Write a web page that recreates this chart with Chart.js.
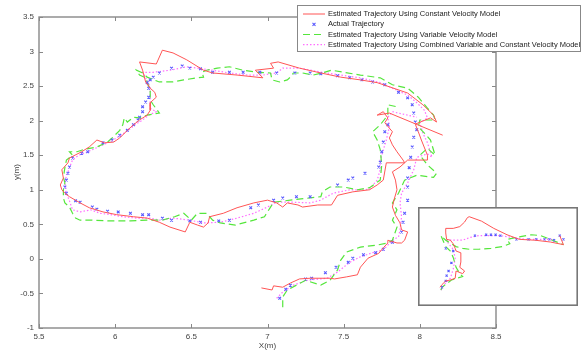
<!DOCTYPE html>
<html><head><meta charset="utf-8">
<script src="https://cdn.jsdelivr.net/npm/chart.js@4.4.0/dist/chart.umd.min.js"></script>
<style>
html,body{margin:0;padding:0;background:#fff;}
#wrap{position:relative;width:583px;height:351px;overflow:hidden;}
#main{position:absolute;left:0;top:0;}
#inset{position:absolute;left:418px;top:207px;}
</style></head><body>
<div id="wrap"><canvas id="main" width="583" height="351"></canvas><canvas id="inset" width="160" height="99"></canvas></div>
<script>
const xTicks = [5.5,6,6.5,7,7.5,8,8.5];
const xTickLabels = ['5.5','6','6.5','7','7.5','8','8.5'];
const yTicks = [-1,-0.5,0,0.5,1,1.5,2,2.5,3,3.5];
const yTickLabels = ['-1','-0.5','0','0.5','1','1.5','2','2.5','3','3.5'];
const seriesNames = ['Estimated Trajectory Using Constant Velocity Model','Actual Trajectory','Estimated Trajectory Using Variable Velocity Model','Estimated Trajectory Using Combined Variable and Constant Velocity Model'];

const estConstVel = [[6.96,-0.42],[7.03,-0.45],[7.04,-0.39],[7.10,-0.41],[7.15,-0.35],[7.21,-0.29],[7.28,-0.28],[7.41,-0.28],[7.44,-0.29],[7.52,-0.26],[7.59,-0.23],[7.61,-0.12],[7.66,0.01],[7.73,0.08],[7.76,0.16],[7.79,0.23],[7.79,0.27],[7.85,0.23],[7.88,0.23],[7.90,0.27],[7.92,0.39],[7.88,0.42],[7.87,0.52],[7.84,0.63],[7.82,0.75],[7.83,0.85],[7.85,1.00],[7.84,1.14],[7.82,1.26],[7.87,1.33],[7.92,1.43],[8.05,1.43],[8.05,1.50],[8.01,1.72],[7.99,1.84],[7.97,1.95],[8.07,2.04],[8.11,1.98],[8.09,2.08],[8.02,2.23],[7.92,2.40],[7.80,2.49],[7.72,2.55],[7.61,2.59],[7.48,2.63],[7.35,2.69],[7.21,2.76],[7.07,2.85],[7.02,2.83],[7.04,2.76],[6.92,2.73],[6.97,2.62],[6.80,2.66],[6.64,2.69],[6.58,2.73],[6.47,2.88],[6.38,2.98],[6.31,3.02],[6.27,2.82],[6.16,2.85],[6.18,2.73],[6.20,2.56],[6.23,2.47],[6.26,2.41],[6.27,2.34],[6.23,2.26],[6.23,2.15],[6.21,2.08],[6.16,2.01],[6.12,1.94],[6.08,1.86],[6.03,1.75],[5.99,1.69],[5.93,1.68],[5.88,1.72],[5.83,1.62],[5.78,1.55],[5.70,1.46],[5.69,1.39],[5.65,1.29],[5.66,1.17],[5.64,1.07],[5.65,1.00],[5.67,0.95],[5.70,0.90],[5.77,0.81],[5.83,0.74],[5.92,0.68],[6.01,0.64],[6.12,0.61],[6.21,0.59],[6.29,0.53],[6.36,0.46],[6.46,0.39],[6.49,0.53],[6.54,0.49],[6.58,0.46],[6.61,0.52],[6.62,0.61],[6.71,0.66],[6.80,0.74],[6.91,0.81],[7.00,0.85],[7.06,0.81],[7.10,0.75],[7.13,0.81],[7.20,0.78],[7.23,0.75],[7.33,0.78],[7.42,0.78],[7.46,0.92],[7.56,0.97],[7.67,1.00],[7.72,1.07],[7.76,1.14],[7.78,1.39],[7.90,1.39],[7.89,1.43],[7.85,1.55],[7.82,1.65],[7.80,1.75],[7.82,1.84],[7.77,1.97],[7.79,2.04],[7.76,2.13],[7.72,2.08],[7.80,2.11],[8.15,1.79]];

const actualTraj = [[7.08,-0.57],[7.12,-0.44],[7.15,-0.38],[7.25,-0.29],[7.29,-0.28],[7.38,-0.20],[7.45,-0.12],[7.53,-0.05],[7.56,0.01],[7.63,0.06],[7.71,0.09],[7.76,0.14],[7.82,0.24],[7.88,0.39],[7.89,0.53],[7.90,0.66],[7.92,0.85],[7.92,1.04],[7.92,1.17],[7.93,1.32],[7.94,1.47],[7.95,1.62],[7.96,1.76],[7.98,1.87],[7.97,1.98],[7.96,2.11],[7.95,2.23],[7.92,2.33],[7.86,2.41],[7.77,2.52],[7.69,2.56],[7.62,2.59],[7.54,2.62],[7.46,2.65],[7.35,2.68],[7.28,2.69],[7.18,2.69],[7.06,2.69],[6.95,2.70],[6.84,2.70],[6.75,2.70],[6.64,2.70],[6.56,2.75],[6.49,2.76],[6.44,2.79],[6.37,2.76],[6.29,2.69],[6.25,2.63],[6.23,2.59],[6.21,2.55],[6.22,2.47],[6.22,2.34],[6.20,2.27],[6.18,2.20],[6.18,2.13],[6.16,2.05],[6.15,2.01],[6.12,1.94],[6.08,1.86],[6.03,1.79],[5.98,1.72],[5.92,1.68],[5.82,1.55],[5.78,1.53],[5.72,1.46],[5.70,1.33],[5.69,1.24],[5.68,1.14],[5.67,1.04],[5.68,0.95],[5.74,0.84],[5.77,0.82],[5.85,0.75],[5.88,0.72],[5.95,0.69],[6.02,0.68],[6.10,0.66],[6.18,0.64],[6.22,0.64],[6.31,0.59],[6.37,0.56],[6.49,0.55],[6.56,0.53],[6.68,0.55],[6.75,0.56],[6.89,0.74],[6.94,0.78],[7.04,0.85],[7.10,0.88],[7.19,0.90],[7.28,0.90],[7.46,1.07],[7.53,1.14],[7.56,1.17],[7.64,1.24],[7.73,1.33],[7.74,1.40],[7.75,1.55],[7.76,1.69],[7.77,1.84],[7.79,1.94]];

const estVarVel = [[7.10,-0.70],[7.10,-0.55],[7.13,-0.45],[7.19,-0.38],[7.25,-0.31],[7.35,-0.38],[7.41,-0.31],[7.46,-0.16],[7.48,-0.02],[7.52,0.10],[7.61,0.17],[7.72,0.20],[7.79,0.23],[7.82,0.27],[7.85,0.46],[7.82,0.56],[7.85,0.71],[7.82,0.81],[7.86,0.95],[7.90,1.14],[7.98,1.21],[8.09,1.18],[8.11,1.24],[8.05,1.36],[8.00,1.50],[8.05,1.60],[8.10,1.50],[8.07,1.72],[8.03,1.82],[7.99,1.91],[8.00,2.01],[8.10,2.01],[8.09,2.08],[8.05,2.18],[7.99,2.34],[7.92,2.47],[7.82,2.52],[7.74,2.62],[7.61,2.66],[7.50,2.70],[7.42,2.73],[7.36,2.69],[7.30,2.66],[7.23,2.69],[7.17,2.69],[7.15,2.63],[7.13,2.59],[7.08,2.56],[7.03,2.59],[7.02,2.69],[6.93,2.70],[6.84,2.73],[6.75,2.78],[6.67,2.76],[6.60,2.73],[6.57,2.70],[6.58,2.63],[6.54,2.62],[6.45,2.59],[6.38,2.56],[6.29,2.56],[6.21,2.63],[6.18,2.69],[6.14,2.73],[6.16,2.66],[6.20,2.62],[6.23,2.44],[6.23,2.30],[6.25,2.23],[6.29,2.11],[6.21,2.08],[6.16,2.04],[6.12,2.05],[6.08,1.98],[6.06,2.04],[6.05,1.94],[6.03,1.86],[5.98,1.75],[5.95,1.69],[5.88,1.62],[5.79,1.58],[5.75,1.55],[5.70,1.55],[5.72,1.50],[5.68,1.43],[5.67,1.32],[5.66,1.18],[5.67,1.10],[5.66,1.00],[5.66,0.88],[5.67,0.81],[5.70,0.75],[5.72,0.66],[5.74,0.59],[5.77,0.56],[5.85,0.56],[5.95,0.55],[6.10,0.55],[6.21,0.56],[6.31,0.56],[6.39,0.61],[6.45,0.66],[6.50,0.56],[6.54,0.66],[6.60,0.66],[6.64,0.56],[6.69,0.52],[6.79,0.49],[6.91,0.56],[6.98,0.61],[7.02,0.75],[7.04,0.82],[7.15,0.85],[7.35,0.90],[7.36,0.97],[7.41,1.04],[7.50,1.04],[7.59,1.00],[7.67,1.03],[7.74,1.14],[7.75,1.36],[7.74,1.58],[7.72,1.72],[7.69,1.84],[7.74,1.94],[7.79,2.08],[7.79,2.23],[7.85,2.20]];

const estCombined = [[7.06,-0.57],[7.10,-0.48],[7.17,-0.38],[7.26,-0.31],[7.39,-0.28],[7.46,-0.19],[7.54,-0.05],[7.61,0.03],[7.69,0.09],[7.76,0.13],[7.82,0.27],[7.86,0.32],[7.87,0.42],[7.88,0.61],[7.87,0.81],[7.88,0.95],[7.92,1.10],[7.96,1.29],[7.98,1.47],[8.05,1.52],[8.08,1.47],[8.05,1.68],[8.02,1.82],[8.00,1.97],[8.05,2.04],[8.03,2.15],[7.98,2.26],[7.92,2.37],[7.82,2.47],[7.74,2.55],[7.61,2.62],[7.48,2.66],[7.36,2.70],[7.21,2.76],[7.10,2.76],[7.06,2.69],[6.97,2.66],[6.87,2.66],[6.75,2.69],[6.64,2.73],[6.54,2.76],[6.47,2.78],[6.36,2.73],[6.25,2.70],[6.18,2.70],[6.20,2.62],[6.22,2.55],[6.23,2.44],[6.23,2.30],[6.23,2.18],[6.27,2.13],[6.22,2.08],[6.18,2.01],[6.13,1.94],[6.08,1.85],[6.03,1.78],[5.98,1.71],[5.92,1.65],[5.87,1.60],[5.82,1.55],[5.76,1.50],[5.72,1.43],[5.70,1.32],[5.68,1.20],[5.67,1.10],[5.68,0.95],[5.70,0.84],[5.72,0.71],[5.77,0.68],[5.84,0.71],[5.90,0.66],[5.97,0.64],[6.05,0.61],[6.14,0.59],[6.23,0.59],[6.29,0.56],[6.38,0.59],[6.49,0.56],[6.58,0.52],[6.69,0.53],[6.80,0.59],[6.91,0.66],[7.00,0.75],[7.06,0.82],[7.17,0.82],[7.28,0.81],[7.35,0.85],[7.43,0.95],[7.54,1.00],[7.63,1.00],[7.67,1.01],[7.72,1.14],[7.74,1.29],[7.74,1.43],[7.78,1.72],[7.80,1.91],[7.79,2.05],[7.82,2.13],[7.92,2.08],[7.98,2.05]];

// inset (zoomed detail, its own unlabelled axes)
const insetConstVel = [[1.13,0.92],[1.26,1.10],[1.51,1.35],[1.82,1.41],[2.14,1.53],[2.20,2.02],[2.64,1.84],[2.77,2.02],[2.45,2.27],[2.52,2.63],[2.52,3.25],[2.20,3.37],[2.14,3.55],[2.01,3.86],[1.82,4.10],[1.57,4.16],[1.51,4.59],[1.51,4.90],[2.01,4.90],[2.45,5.02],[2.77,5.33],[2.96,5.63],[3.08,5.69],[3.90,5.39],[4.72,4.90],[5.60,4.47],[6.42,4.16],[7.48,4.10],[8.49,3.98],[9.37,3.80],[9.12,4.41]];
const insetActual = [[1.26,0.92],[1.51,1.35],[1.57,1.71],[1.70,2.02],[1.89,2.57],[2.01,3.37],[1.51,3.55],[3.46,4.41],[4.21,4.47],[4.53,4.47],[4.84,4.47],[5.16,4.41],[6.23,4.16],[7.04,4.16],[7.55,4.16],[8.11,4.16],[8.43,4.16],[8.74,4.10],[9.12,4.41],[9.37,4.16]];
const insetVarVel = [[1.19,0.73],[1.26,0.92],[1.89,1.41],[2.64,1.65],[2.45,1.84],[2.20,2.27],[2.01,2.94],[1.82,3.37],[1.51,3.67],[1.19,4.41],[1.51,4.10],[2.20,3.67],[2.64,3.55],[3.08,3.49],[3.71,3.49],[4.53,3.55],[5.28,3.67],[5.79,3.86],[5.60,4.16],[6.23,4.29],[7.23,4.47],[7.86,4.41],[8.49,4.16],[9.37,3.80]];
const insetCombined = [[1.19,0.73],[1.51,1.22],[1.82,1.53],[2.01,2.14],[2.14,2.88],[2.01,3.49],[1.70,3.86],[1.57,4.10],[2.14,4.10],[2.64,4.10],[3.14,4.29],[3.71,4.41],[4.53,4.41],[5.16,4.41],[5.97,4.29],[6.86,4.16],[7.86,4.16],[8.74,4.16]];

const C_RED='rgb(255,85,85)', C_BLUE='rgb(90,90,255)', C_GREEN='rgb(85,230,60)', C_MAG='rgb(255,110,255)';
const toXY = a => a.map(p => ({x:p[0], y:p[1]}));

function makeSets(r,b,g,m,pr){
  return [
    {label:seriesNames[0], data:toXY(r), showLine:true, borderColor:C_RED, borderWidth:1, pointRadius:0, tension:0},
    {label:seriesNames[1], data:toXY(b), showLine:false, pointStyle:'crossRot', pointRadius:pr, pointBorderWidth:1.1, borderColor:C_BLUE, backgroundColor:C_BLUE},
    {label:seriesNames[2], data:toXY(g), showLine:true, borderColor:C_GREEN, borderWidth:1.2, borderDash:[7,4], pointRadius:0, tension:0},
    {label:seriesNames[3], data:toXY(m), showLine:true, borderColor:C_MAG, borderWidth:1.2, borderDash:[1.5,2], pointRadius:0, tension:0}
  ];
}

const mainDeco = {
  id:'mainDeco',
  afterDraw(chart){
    const ctx = chart.ctx, a = chart.chartArea, xs = chart.scales.x, ys = chart.scales.y;
    ctx.save();
    ctx.strokeStyle = '#888'; ctx.lineWidth = 1.4;
    ctx.strokeRect(a.left, a.top, a.right - a.left, a.bottom - a.top);
    ctx.lineWidth = 1;
    ctx.beginPath();
    xTicks.forEach(v => { const p = Math.round(xs.getPixelForValue(v)) + 0.5;
      ctx.moveTo(p, a.bottom); ctx.lineTo(p, a.bottom - 4);
      ctx.moveTo(p, a.top); ctx.lineTo(p, a.top + 4); });
    yTicks.forEach(v => { const p = Math.round(ys.getPixelForValue(v)) + 0.5;
      ctx.moveTo(a.left, p); ctx.lineTo(a.left + 4, p);
      ctx.moveTo(a.right, p); ctx.lineTo(a.right - 4, p); });
    ctx.stroke();
    // axis titles
    ctx.fillStyle = '#444'; ctx.font = '8px "Liberation Sans", Arial, sans-serif';
    ctx.textAlign = 'center'; ctx.textBaseline = 'middle';
    ctx.fillText('X(m)', (a.left + a.right) / 2, 346);
    ctx.save(); ctx.translate(17, 172); ctx.rotate(-Math.PI / 2); ctx.fillText('y(m)', 0, 0); ctx.restore();
    // legend
    const lx = 297, ly = 5, lw = 284, lh = 47;
    ctx.fillStyle = '#fff'; ctx.fillRect(lx, ly, lw, lh);
    ctx.strokeStyle = '#888'; ctx.lineWidth = 1; ctx.strokeRect(lx + 0.5, ly + 0.5, lw - 1, lh - 1);
    const rows = [14, 24.3, 34.5, 44.7];
    ctx.font = '7.5px "Liberation Sans", Arial, sans-serif'; ctx.textAlign = 'left'; ctx.fillStyle = '#222';
    rows.forEach((y, i) => {
      ctx.save();
      if (i === 1) {
        ctx.strokeStyle = C_BLUE; ctx.lineWidth = 1.1; ctx.beginPath();
        ctx.moveTo(312.5, y - 1.5); ctx.lineTo(315.5, y + 1.5); ctx.moveTo(315.5, y - 1.5); ctx.lineTo(312.5, y + 1.5); ctx.stroke();
      } else {
        const cols = [C_RED, null, C_GREEN, C_MAG];
        ctx.strokeStyle = cols[i]; ctx.lineWidth = i === 0 ? 1 : 1.2;
        if (i === 2) ctx.setLineDash([7, 4]); if (i === 3) ctx.setLineDash([1.5, 2]);
        ctx.beginPath(); ctx.moveTo(303, y); ctx.lineTo(325, y); ctx.stroke();
      }
      ctx.restore();
      ctx.fillText(seriesNames[i], 328, y);
    });
    ctx.restore();
  }
};

new Chart(document.getElementById('main'), {
  type:'scatter',
  data:{datasets: makeSets(estConstVel, actualTraj, estVarVel, estCombined, 1.9)},
  options:{
    responsive:false, animation:false, devicePixelRatio:1,
    layout:{padding:{left:0, top:17, right:87, bottom:0}},
    plugins:{legend:{display:false}, tooltip:{enabled:false}},
    scales:{
      x:{type:'linear', min:5.5, max:8.5,
         afterBuildTicks: s => { s.ticks = xTicks.map(v => ({value:v})); },
         afterFit: s => { s.height = 23; },
         grid:{display:false, drawTicks:false}, border:{display:false},
         ticks:{autoSkip:false, maxRotation:0, padding:4, color:'#444', font:{size:8, family:'"Liberation Sans", Arial, sans-serif'},
                callback: v => xTickLabels[xTicks.indexOf(v)]}},
      y:{type:'linear', min:-1, max:3.5,
         afterBuildTicks: s => { s.ticks = yTicks.map(v => ({value:v})); },
         afterFit: s => { s.width = 39; },
         grid:{display:false, drawTicks:false}, border:{display:false},
         ticks:{autoSkip:false, padding:5, color:'#444', font:{size:8, family:'"Liberation Sans", Arial, sans-serif'},
                callback: v => yTickLabels[yTicks.indexOf(v)]}}
    }
  },
  plugins:[mainDeco]
});

const insetDeco = {
  id:'insetDeco',
  beforeDraw(chart){ const c = chart.ctx; c.save(); c.fillStyle = '#fff'; c.fillRect(0, 0, chart.width, chart.height); c.restore(); },
  afterDraw(chart){ const c = chart.ctx; c.save(); c.strokeStyle = '#777'; c.lineWidth = 1.6; c.strokeRect(0.8, 0.8, chart.width - 1.6, chart.height - 1.6); c.restore(); }
};
new Chart(document.getElementById('inset'), {
  type:'scatter',
  data:{datasets: makeSets(insetConstVel, insetActual, insetVarVel, insetCombined, 1.5)},
  options:{
    responsive:false, animation:false, devicePixelRatio:1,
    layout:{padding:0},
    plugins:{legend:{display:false}, tooltip:{enabled:false}},
    scales:{x:{type:'linear', display:false, min:0, max:10}, y:{type:'linear', display:false, min:0, max:6}}
  },
  plugins:[insetDeco]
});
</script>
</body></html>
